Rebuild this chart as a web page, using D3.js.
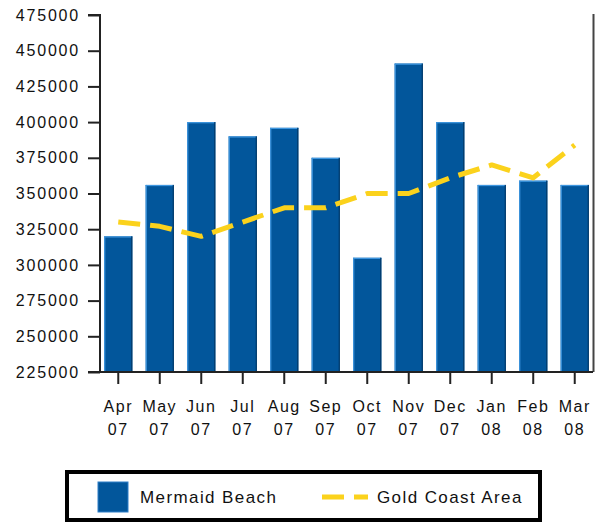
<!DOCTYPE html>
<html>
<head>
<meta charset="utf-8">
<script src="https://cdn.jsdelivr.net/npm/d3@7"></script>
<style>
  html, body { margin: 0; padding: 0; background: #fff; }
  svg { display: block; }
  text { font-family: "Liberation Sans", Arial, sans-serif; fill: #111; }
</style>
</head>
<body>
<svg id="chart" width="596" height="523"></svg>
<script>
const months = ["Apr", "May", "Jun", "Jul", "Aug", "Sep", "Oct", "Nov", "Dec", "Jan", "Feb", "Mar"];
const years = ["07", "07", "07", "07", "07", "07", "07", "07", "07", "08", "08", "08"];
const mermaidBeach = [320000, 356000, 400000, 390000, 396000, 375000, 305000, 441000, 400000, 356000, 359000, 356000];
const goldCoastArea = [330000, 327000, 320000, 330000, 340000, 340000, 350000, 350000, 361000, 370000, 361000, 384000];
const yTicks = [225000, 250000, 275000, 300000, 325000, 350000, 375000, 400000, 425000, 450000, 475000];
const seriesNames = ["Mermaid Beach", "Gold Coast Area"];

const svg = d3.select("#chart");
const pLeft = 100, pRight = 593, pTop = 15, pBottom = 372;

const x = d3.scaleBand().domain(months.map((m, i) => i)).range([pLeft, pRight])
  .paddingInner(0.32).paddingOuter(0.1);
const y = d3.scaleLinear().domain([225000, 475000]).range([pBottom, pTop]);

// right border
svg.append("line").attr("x1", pRight + 0.5).attr("x2", pRight + 0.5)
  .attr("y1", pTop - 1).attr("y2", pBottom).attr("stroke", "#444").attr("stroke-width", 2);

// bars
const barG = svg.append("g");
mermaidBeach.forEach((v, i) => {
  const bx = x(i), bw = x.bandwidth(), by = y(v), bh = pBottom - y(v);
  barG.append("rect").attr("x", bx).attr("y", by).attr("width", bw).attr("height", bh).attr("fill", "#02569b");
  barG.append("rect").attr("x", bx).attr("y", by).attr("width", 1.2).attr("height", bh).attr("fill", "#3f97e0");
  barG.append("rect").attr("x", bx).attr("y", by).attr("width", bw).attr("height", 1.2).attr("fill", "#3f97e0");
  barG.append("rect").attr("x", bx + bw - 1.2).attr("y", by).attr("width", 1.2).attr("height", bh).attr("fill", "#023a6a");
});

// line
const line = d3.line().x((d, i) => x(i) + x.bandwidth() / 2).y(d => y(d));
svg.append("path").datum(goldCoastArea).attr("d", line)
  .attr("fill", "none").attr("stroke", "#fbd21c").attr("stroke-width", 5)
  .attr("stroke-dasharray", "22,10").attr("stroke-linejoin", "round");

// y axis
const yAxis = d3.axisLeft(y).tickValues(yTicks).tickFormat(d3.format("d")).tickSize(12).tickPadding(8);
const yg = svg.append("g").attr("transform", `translate(${pLeft},0)`).call(yAxis);
yg.select(".domain").attr("stroke", "#222").attr("stroke-width", 2).attr("d", `M-12,${pTop}H0V${pBottom}H-12`);
yg.selectAll(".tick line").attr("stroke", "#222").attr("stroke-width", 2);
yg.selectAll(".tick text").attr("font-size", 16).attr("letter-spacing", "1.8px")
  .attr("font-family", "Liberation Sans, Arial, sans-serif").attr("fill", "#222");

// x axis
const xAxis = d3.axisBottom(x).tickSize(12).tickFormat(() => "");
const xg = svg.append("g").attr("transform", `translate(0,${pBottom})`).call(xAxis);
xg.select(".domain").attr("stroke", "#222").attr("stroke-width", 2).attr("d", `M${pLeft},0H${pRight}`);
xg.selectAll(".tick line").attr("stroke", "#222").attr("stroke-width", 2);
xg.selectAll(".tick").each(function(d) {
  const t = d3.select(this).append("text").attr("text-anchor", "middle")
    .attr("font-size", 16).attr("letter-spacing", "1.5px")
    .attr("font-family", "Liberation Sans, Arial, sans-serif").attr("fill", "#222");
  t.append("tspan").attr("x", 0).attr("y", 40).text(months[d]);
  t.append("tspan").attr("x", 0).attr("y", 63).text(years[d]);
});

// legend
const lg = svg.append("g");
lg.append("rect").attr("x", 67).attr("y", 472).attr("width", 473).attr("height", 48)
  .attr("fill", "#fff").attr("stroke", "#000").attr("stroke-width", 4);
lg.append("rect").attr("x", 98).attr("y", 482).attr("width", 30).attr("height", 30).attr("fill", "#02569b")
  .attr("stroke", "#2f7fc8").attr("stroke-width", 1);
lg.append("text").attr("x", 140).attr("y", 503).attr("font-size", 17).attr("letter-spacing", "1.4px")
  .attr("fill", "#222").text(seriesNames[0]);
lg.append("line").attr("x1", 322).attr("x2", 368).attr("y1", 497).attr("y2", 497)
  .attr("stroke", "#fbd21c").attr("stroke-width", 5).attr("stroke-dasharray", "22,10");
lg.append("text").attr("x", 377).attr("y", 503).attr("font-size", 17).attr("letter-spacing", "1.4px")
  .attr("fill", "#222").text(seriesNames[1]);
</script>
</body>
</html>
